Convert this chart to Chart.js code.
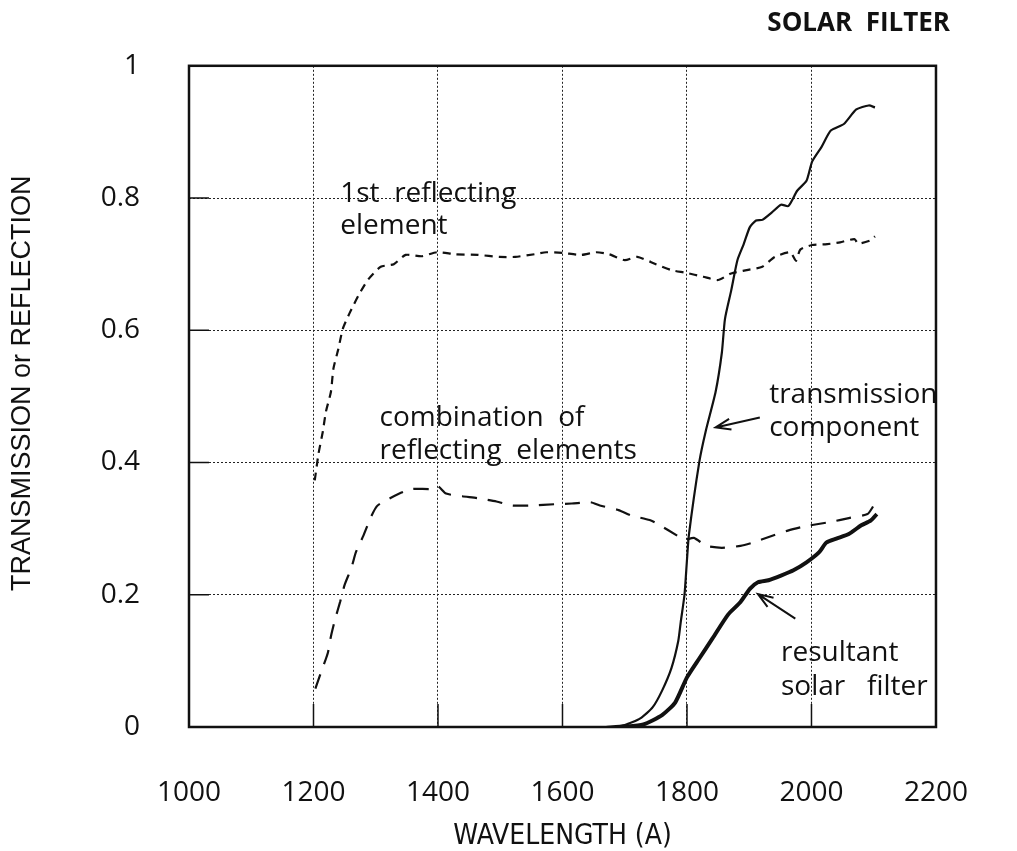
<!DOCTYPE html>
<html>
<head>
<meta charset="utf-8">
<title>Solar filter</title>
<script src="https://cdn.jsdelivr.net/npm/chart.js@4.4.1/dist/chart.umd.min.js"></script>
<style>
  html, body { margin: 0; padding: 0; background: #fff; }
  canvas { display: block; }
</style>
</head>
<body>
<canvas id="chart" width="1017" height="851"></canvas>
<script>
// Axis ticks
const xTickValues = [1000, 1200, 1400, 1600, 1800, 2000, 2200];
const xTickLabels = ['1000', '1200', '1400', '1600', '1800', '2000', '2200'];
const yTickValues = [0, 0.2, 0.4, 0.6, 0.8, 1];
const yTickLabels = ['0', '0.2', '0.4', '0.6', '0.8', '1'];

// 1st reflecting element (short dashes)
const reflect1Wave = [1202, 1208, 1215, 1220, 1228, 1232, 1240, 1247, 1258, 1273, 1288, 1308, 1329, 1348,
  1374, 1398, 1428, 1464, 1499, 1524, 1555, 1574, 1600, 1630, 1654, 1675, 1700, 1720, 1750, 1775, 1798,
  1826, 1850, 1871, 1896, 1921, 1941, 1966, 1975, 1982, 2001, 2022, 2046, 2069, 2075, 2095, 2102];
const reflect1Value = [0.373, 0.413, 0.447, 0.477, 0.507, 0.542, 0.572, 0.602, 0.626, 0.654, 0.677, 0.696,
  0.700, 0.714, 0.712, 0.718, 0.715, 0.714, 0.711, 0.711, 0.715, 0.718, 0.717, 0.714, 0.718, 0.715, 0.706,
  0.711, 0.700, 0.691, 0.687, 0.681, 0.676, 0.686, 0.691, 0.696, 0.711, 0.718, 0.705, 0.722, 0.729, 0.730,
  0.733, 0.738, 0.731, 0.736, 0.742];

// combination of reflecting elements (long dashes)
const comboWave = [1203, 1213, 1223, 1228, 1235, 1243, 1250, 1261, 1268, 1280, 1293, 1303, 1338, 1359, 1389,
  1400, 1413, 1439, 1464, 1494, 1519, 1549, 1589, 1615, 1645, 1660, 1690, 1710, 1740, 1755, 1785, 1796,
  1811, 1831, 1856, 1886, 1906, 1936, 1962, 1992, 2030, 2060, 2090, 2100];
const comboValue = [0.058, 0.085, 0.112, 0.137, 0.164, 0.190, 0.215, 0.241, 0.264, 0.289, 0.319, 0.335,
  0.353, 0.360, 0.360, 0.364, 0.353, 0.349, 0.346, 0.341, 0.335, 0.335, 0.337, 0.338, 0.340, 0.335, 0.328,
  0.320, 0.313, 0.306, 0.289, 0.283, 0.286, 0.274, 0.271, 0.274, 0.279, 0.289, 0.297, 0.304, 0.310, 0.316,
  0.322, 0.335];

// transmission component (thin solid)
const transWave = [1670, 1700, 1725, 1745, 1760, 1775, 1786, 1790, 1796, 1800, 1803, 1820, 1830, 1846, 1856,
  1861, 1871, 1881, 1891, 1901, 1911, 1921, 1936, 1951, 1963, 1977, 1992, 2001, 2016, 2031, 2052, 2072,
  2092, 2102];
const transValue = [0, 0.003, 0.013, 0.030, 0.055, 0.089, 0.130, 0.159, 0.200, 0.253, 0.290, 0.402, 0.447,
  0.507, 0.566, 0.617, 0.660, 0.706, 0.730, 0.756, 0.766, 0.767, 0.778, 0.790, 0.788, 0.811, 0.826, 0.855,
  0.877, 0.902, 0.912, 0.934, 0.940, 0.937];

// resultant solar filter (thick solid)
const resultWave = [1695, 1730, 1760, 1781, 1800, 1820, 1841, 1866, 1886, 1901, 1914, 1931, 1951, 1971, 1992,
  2012, 2024, 2040, 2060, 2080, 2095, 2105];
const resultValue = [0, 0.004, 0.018, 0.037, 0.075, 0.104, 0.134, 0.170, 0.189, 0.209, 0.219, 0.222, 0.229,
  0.237, 0.249, 0.264, 0.279, 0.285, 0.292, 0.305, 0.312, 0.322];

function toPoints(xs, ys) {
  return xs.map((x, i) => ({ x: x, y: ys[i] }));
}

// Text notes and arrows, anchored in data units
const notes = [
  { text: '1st  reflecting', x: 1243, y: 0.806 },
  { text: 'element', x: 1243, y: 0.757 },
  { text: 'combination  of', x: 1306, y: 0.468 },
  { text: 'reflecting  elements', x: 1306, y: 0.417 },
  { text: 'transmission', x: 1932, y: 0.502 },
  { text: 'component', x: 1932, y: 0.452 },
  { text: 'resultant', x: 1951, y: 0.112 },
  { text: 'solar   filter', x: 1951, y: 0.061 }
];
const arrows = [
  { from: [1917, 0.468], to: [1846, 0.453] },
  { from: [1974, 0.164], to: [1914, 0.201] }
];

const ink = '#111';
const labelFont = '"Open Sans", "DejaVu Sans", sans-serif';

const decorations = {
  id: 'decorations',
  afterDraw(chart) {
    const { ctx, chartArea: a } = chart;
    const sx = chart.scales.x, sy = chart.scales.y;
    ctx.save();
    ctx.strokeStyle = ink;
    ctx.fillStyle = ink;

    // frame
    ctx.lineWidth = 2.5;
    ctx.strokeRect(a.left, a.top, a.right - a.left, a.bottom - a.top);

    // short solid ticks inside the frame
    ctx.lineWidth = 1.5;
    ctx.beginPath();
    yTickValues.forEach(v => {
      const py = sy.getPixelForValue(v);
      ctx.moveTo(a.left, py);
      ctx.lineTo(a.left + 20, py);
    });
    xTickValues.forEach(v => {
      const px = sx.getPixelForValue(v);
      ctx.moveTo(px, a.bottom);
      ctx.lineTo(px, a.bottom - 23);
    });
    ctx.stroke();

    // notes
    ctx.font = '28px ' + labelFont;
    ctx.textAlign = 'left';
    ctx.textBaseline = 'middle';
    notes.forEach(n => {
      ctx.fillText(n.text, sx.getPixelForValue(n.x), sy.getPixelForValue(n.y));
    });

    // arrows
    ctx.lineWidth = 2;
    arrows.forEach(ar => {
      const x0 = sx.getPixelForValue(ar.from[0]), y0 = sy.getPixelForValue(ar.from[1]);
      const x1 = sx.getPixelForValue(ar.to[0]), y1 = sy.getPixelForValue(ar.to[1]);
      const ang = Math.atan2(y1 - y0, x1 - x0);
      ctx.beginPath();
      ctx.moveTo(x0, y0);
      ctx.lineTo(x1, y1);
      ctx.moveTo(x1 - 16 * Math.cos(ang - 0.35), y1 - 16 * Math.sin(ang - 0.35));
      ctx.lineTo(x1, y1);
      ctx.lineTo(x1 - 16 * Math.cos(ang + 0.35), y1 - 16 * Math.sin(ang + 0.35));
      ctx.stroke();
    });

    // y axis title, sits a little above the middle of the frame
    ctx.save();
    ctx.translate(23, sy.getPixelForValue(0.52));
    ctx.rotate(-Math.PI / 2);
    ctx.font = '27px "Liberation Sans", sans-serif';
    ctx.textAlign = 'center';
    ctx.fillText('TRANSMISSION or REFLECTION', 0, 0);
    ctx.restore();

    // heading
    ctx.font = 'bold 26px ' + labelFont;
    ctx.textAlign = 'right';
    ctx.fillText('SOLAR  FILTER', 950, 24);
    ctx.restore();
  }
};

new Chart(document.getElementById('chart'), {
  type: 'line',
  data: {
    datasets: [
      {
        label: '1st reflecting element',
        data: toPoints(reflect1Wave, reflect1Value),
        borderColor: ink,
        borderWidth: 2.2,
        borderDash: [8, 6]
      },
      {
        label: 'combination of reflecting elements',
        data: toPoints(comboWave, comboValue),
        borderColor: ink,
        borderWidth: 2.2,
        borderDash: [15, 11]
      },
      {
        label: 'transmission component',
        data: toPoints(transWave, transValue),
        borderColor: ink,
        borderWidth: 2.2
      },
      {
        label: 'resultant solar filter',
        data: toPoints(resultWave, resultValue),
        borderColor: ink,
        borderWidth: 4
      }
    ]
  },
  options: {
    responsive: false,
    animation: false,
    devicePixelRatio: 1,
    layout: { padding: { top: 56, right: 32, bottom: 0, left: 46 } },
    elements: {
      point: { radius: 0 },
      line: { tension: 0.2, fill: false }
    },
    plugins: {
      legend: { display: false },
      tooltip: { enabled: false }
    },
    scales: {
      x: {
        type: 'linear',
        min: 1000,
        max: 2200,
        afterBuildTicks: s => { s.ticks = xTickValues.map(v => ({ value: v })); },
        afterFit: s => { s.height = 124; },
        ticks: {
          callback: (v, i) => xTickLabels[i],
          color: ink,
          font: { family: labelFont, size: 28 },
          padding: 49,
          maxRotation: 0
        },
        grid: { color: '#222', lineWidth: 1, drawTicks: false },
        border: { display: false, dash: [2, 2] },
        title: {
          display: true,
          text: 'WAVELENGTH (A)',
          color: ink,
          font: { family: '"Liberation Sans Narrow", "DejaVu Sans Condensed", sans-serif', size: 28, lineHeight: 1 },
          padding: { top: 0, bottom: 0 }
        }
      },
      y: {
        type: 'linear',
        min: 0,
        max: 1,
        afterBuildTicks: s => { s.ticks = yTickValues.map(v => ({ value: v })); },
        afterFit: s => { s.width = 143; },
        ticks: {
          callback: (v, i) => yTickLabels[i],
          color: ink,
          font: { family: labelFont, size: 28 },
          padding: 49
        },
        grid: { color: '#222', lineWidth: 1, drawTicks: false },
        border: { display: false, dash: [2, 2] }
      }
    }
  },
  plugins: [decorations]
});
</script>
</body>
</html>
